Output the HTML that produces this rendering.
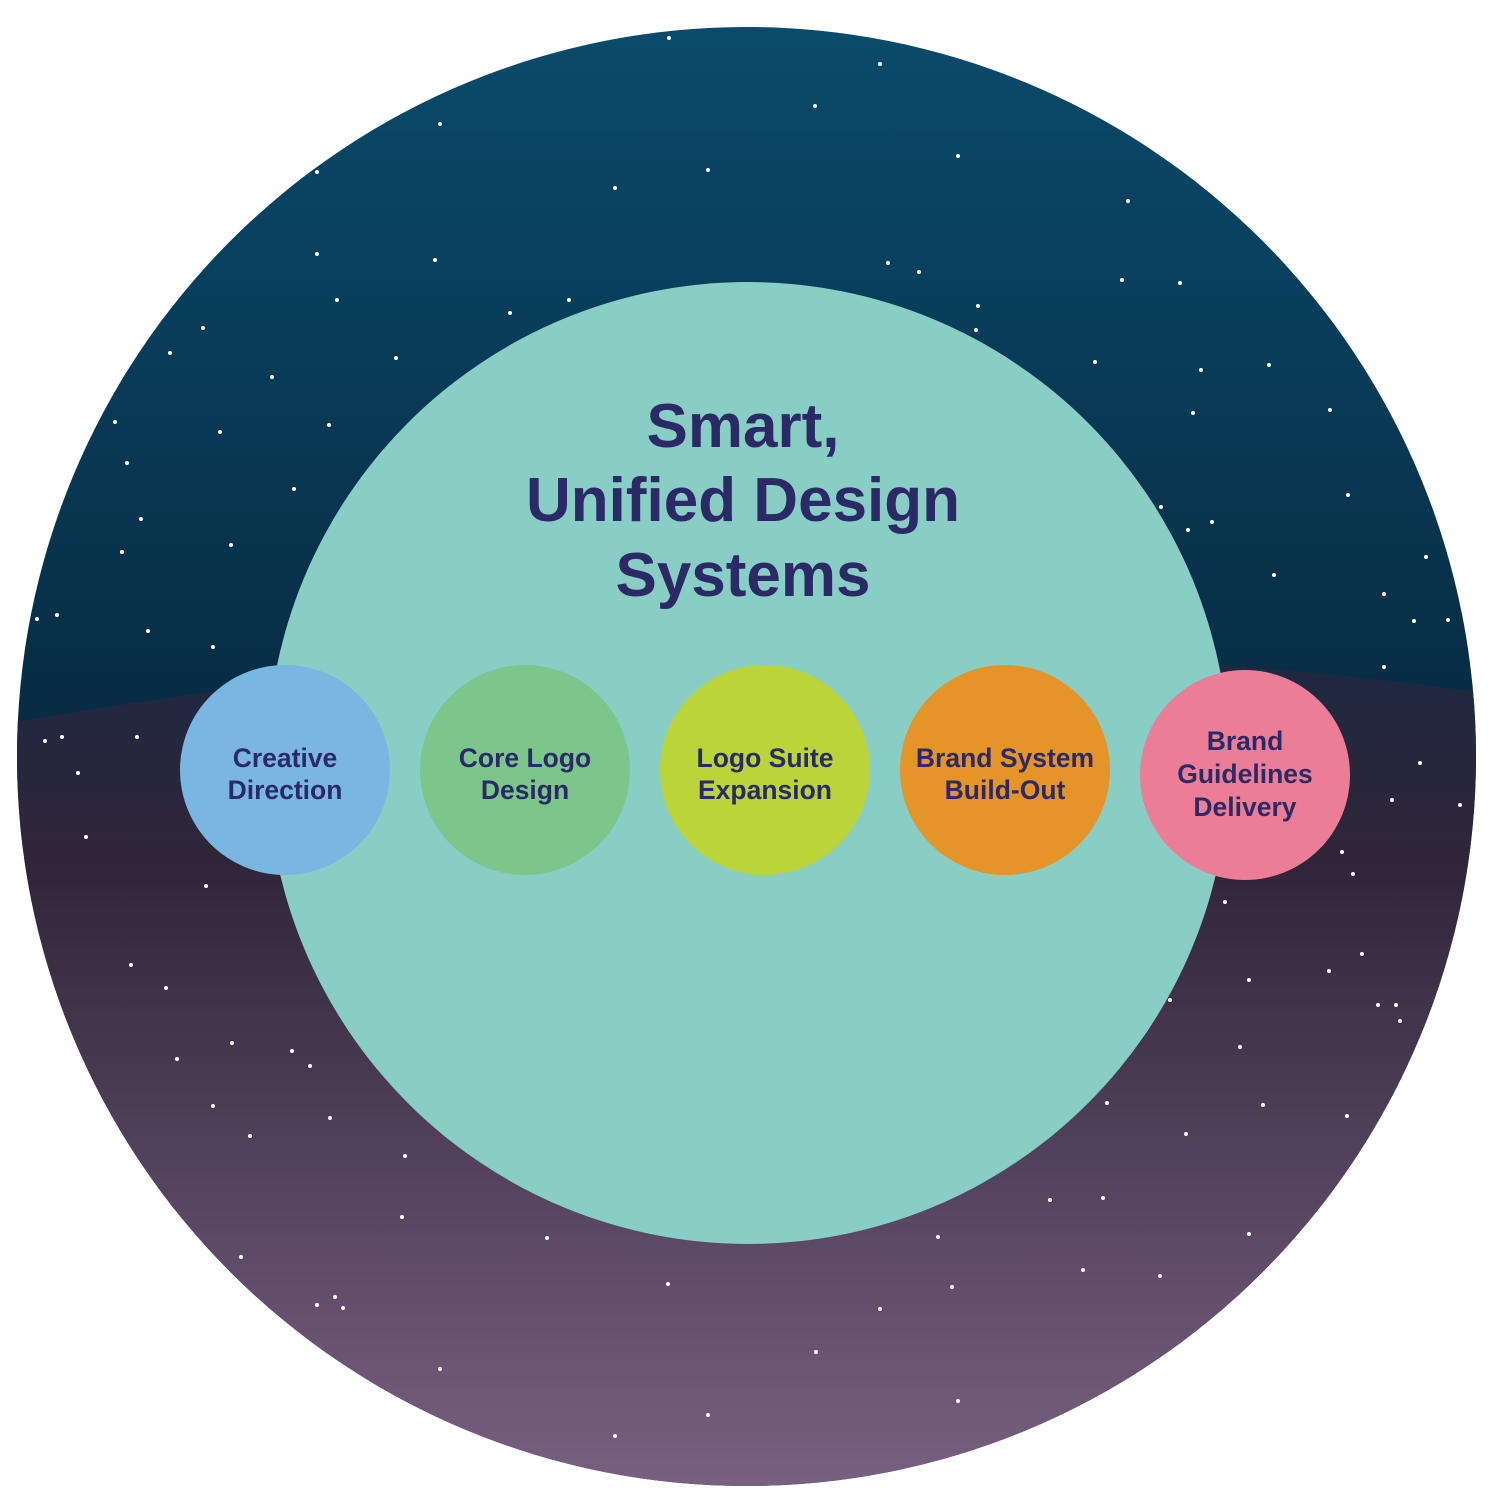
<!DOCTYPE html>
<html><head><meta charset="utf-8"><style>
html,body{margin:0;padding:0;background:#fff;}
body{width:1500px;height:1497px;overflow:hidden;}
text{font-family:"Liberation Sans",sans-serif;font-weight:bold;fill:#2b2a66;text-anchor:middle;}
</style></head><body>
<svg width="1500" height="1497" viewBox="0 0 1500 1497" xmlns="http://www.w3.org/2000/svg">
<defs>
<linearGradient id="top" x1="0" y1="0" x2="0" y2="1">
<stop offset="0" stop-color="#0a4c6c"/><stop offset="0.5" stop-color="#072a42"/><stop offset="1" stop-color="#072a42"/>
</linearGradient>
<linearGradient id="bot" x1="0" y1="0" x2="0" y2="1">
<stop offset="0" stop-color="#1c2942"/><stop offset="0.25" stop-color="#302538"/><stop offset="1" stop-color="#7a6282"/>
</linearGradient>
<clipPath id="c"><circle cx="746.5" cy="756.5" r="729.5"/></clipPath>
</defs>
<g clip-path="url(#c)">
<rect x="0" y="0" width="1500" height="1497" fill="url(#top)"/>
<path d="M0,725 Q750,590 1500,695 L1500,1500 L0,1500 Z" fill="url(#bot)"/>
<g fill="#fff">
<circle cx="669" cy="38" r="2"/><circle cx="880" cy="64" r="2"/><circle cx="815" cy="106" r="2"/><circle cx="440" cy="124" r="2"/><circle cx="958" cy="156" r="2"/><circle cx="708" cy="170" r="2"/><circle cx="317" cy="172" r="2"/><circle cx="615" cy="188" r="2"/><circle cx="1128" cy="201" r="2"/><circle cx="317" cy="254" r="2"/><circle cx="435" cy="260" r="2"/><circle cx="888" cy="263" r="2"/><circle cx="919" cy="272" r="2"/><circle cx="1122" cy="280" r="2"/><circle cx="1180" cy="283" r="2"/><circle cx="337" cy="300" r="2"/><circle cx="569" cy="300" r="2"/><circle cx="978" cy="306" r="2"/><circle cx="510" cy="313" r="2"/><circle cx="203" cy="328" r="2"/><circle cx="976" cy="330" r="2"/><circle cx="170" cy="353" r="2"/><circle cx="396" cy="358" r="2"/><circle cx="1095" cy="362" r="2"/><circle cx="1269" cy="365" r="2"/><circle cx="1201" cy="370" r="2"/><circle cx="272" cy="377" r="2"/><circle cx="1330" cy="410" r="2"/><circle cx="1193" cy="413" r="2"/><circle cx="115" cy="422" r="2"/><circle cx="329" cy="425" r="2"/><circle cx="220" cy="432" r="2"/><circle cx="127" cy="463" r="2"/><circle cx="294" cy="489" r="2"/><circle cx="1348" cy="495" r="2"/><circle cx="1161" cy="507" r="2"/><circle cx="141" cy="519" r="2"/><circle cx="1212" cy="522" r="2"/><circle cx="1188" cy="530" r="2"/><circle cx="231" cy="545" r="2"/><circle cx="122" cy="552" r="2"/><circle cx="1426" cy="557" r="2"/><circle cx="1274" cy="575" r="2"/><circle cx="1384" cy="594" r="2"/><circle cx="57" cy="615" r="2"/><circle cx="37" cy="619" r="2"/><circle cx="1448" cy="620" r="2"/><circle cx="148" cy="631" r="2"/><circle cx="213" cy="647" r="2"/><circle cx="1384" cy="667" r="2"/><circle cx="1414" cy="621" r="2"/>
<circle cx="45" cy="741" r="2"/><circle cx="62" cy="737" r="2"/><circle cx="137" cy="737" r="2"/><circle cx="78" cy="773" r="2"/><circle cx="1420" cy="763" r="2"/><circle cx="1392" cy="800" r="2"/><circle cx="1460" cy="805" r="2"/><circle cx="86" cy="837" r="2"/><circle cx="1342" cy="852" r="2"/><circle cx="1353" cy="874" r="2"/><circle cx="206" cy="886" r="2"/><circle cx="1225" cy="902" r="2"/><circle cx="1362" cy="954" r="2"/><circle cx="131" cy="965" r="2"/><circle cx="1329" cy="971" r="2"/><circle cx="1249" cy="980" r="2"/><circle cx="166" cy="988" r="2"/><circle cx="1170" cy="1000" r="2"/><circle cx="1378" cy="1005" r="2"/><circle cx="1396" cy="1005" r="2"/><circle cx="1400" cy="1021" r="2"/><circle cx="232" cy="1043" r="2"/><circle cx="1240" cy="1047" r="2"/><circle cx="292" cy="1051" r="2"/><circle cx="177" cy="1059" r="2"/><circle cx="310" cy="1066" r="2"/><circle cx="1107" cy="1103" r="2"/><circle cx="213" cy="1106" r="2"/><circle cx="1263" cy="1105" r="2"/><circle cx="330" cy="1118" r="2"/><circle cx="1347" cy="1116" r="2"/><circle cx="250" cy="1136" r="2"/><circle cx="1186" cy="1134" r="2"/><circle cx="405" cy="1156" r="2"/><circle cx="1050" cy="1200" r="2"/><circle cx="1103" cy="1198" r="2"/><circle cx="402" cy="1217" r="2"/><circle cx="938" cy="1237" r="2"/><circle cx="1249" cy="1234" r="2"/><circle cx="547" cy="1238" r="2"/><circle cx="241" cy="1257" r="2"/><circle cx="1083" cy="1270" r="2"/><circle cx="1160" cy="1276" r="2"/><circle cx="668" cy="1284" r="2"/><circle cx="952" cy="1287" r="2"/><circle cx="335" cy="1297" r="2"/><circle cx="317" cy="1305" r="2"/><circle cx="343" cy="1308" r="2"/><circle cx="880" cy="1309" r="2"/><circle cx="816" cy="1352" r="2"/><circle cx="440" cy="1369" r="2"/><circle cx="958" cy="1401" r="2"/><circle cx="708" cy="1415" r="2"/><circle cx="615" cy="1436" r="2"/>
</g>
</g>
<circle cx="748" cy="763" r="481" fill="#89cec4"/>
<text font-size="62" x="743" y="447">Smart,</text>
<text font-size="62" x="743" y="521">Unified Design</text>
<text font-size="62" x="743" y="596">Systems</text>
<circle cx="285" cy="770" r="105" fill="#79b6e2"/>
<circle cx="525" cy="770" r="105" fill="#7cc68c"/>
<circle cx="765" cy="770" r="105" fill="#bbd43a"/>
<circle cx="1005" cy="770" r="105" fill="#e59428"/>
<circle cx="1245" cy="775" r="105" fill="#ec7d96"/>
<g font-size="26.5">
<text x="285" y="767">Creative</text><text x="285" y="799">Direction</text>
<text x="525" y="767">Core Logo</text><text x="525" y="799">Design</text>
<text x="765" y="767">Logo Suite</text><text x="765" y="799">Expansion</text>
<text x="1005" y="767">Brand System</text><text x="1005" y="799">Build-Out</text>
<text x="1245" y="750">Brand</text><text x="1245" y="783">Guidelines</text><text x="1245" y="816">Delivery</text>
</g>
</svg>
</body></html>
